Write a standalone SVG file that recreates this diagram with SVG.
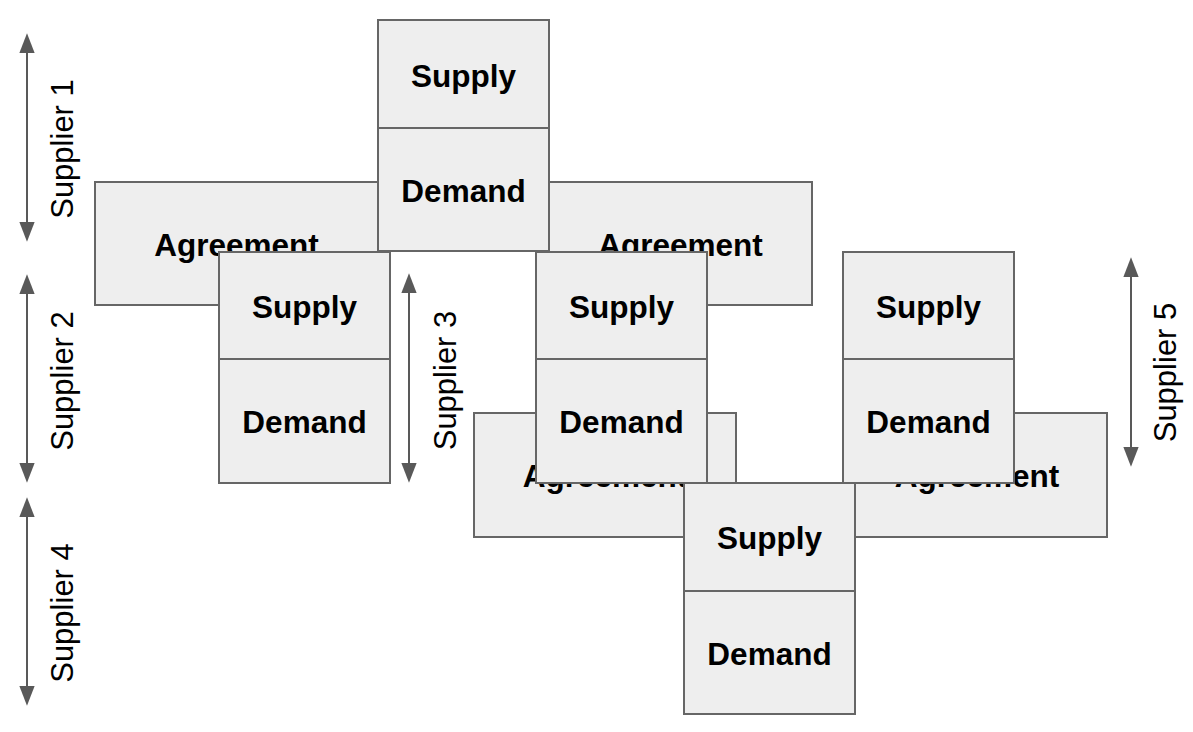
<svg xmlns="http://www.w3.org/2000/svg" width="1193" height="732" viewBox="0 0 1193 732">
<style>
.box{fill:#eeeeee;stroke:#666666;stroke-width:2}
.lbl{font-family:"Liberation Sans",Arial,sans-serif;font-weight:bold;font-size:31.5px;fill:#000;text-anchor:middle}
.sup{font-family:"Liberation Sans",Arial,sans-serif;font-size:31px;fill:#000;text-anchor:middle}
.arr{stroke:#595959;stroke-width:2;fill:none;marker-start:url(#ah);marker-end:url(#ah)}
</style>
<defs>
<marker id="ah" markerUnits="userSpaceOnUse" markerWidth="20" markerHeight="16" refX="12" refY="7" orient="auto-start-reverse" viewBox="0 0 18 14">
<path d="M0,0 L18,7 L0,14 z" fill="#595959"/>
</marker>
</defs>
<rect width="1193" height="732" fill="#ffffff"/>
<g id="agreement1"><rect class="box" x="95" y="182" width="283" height="123"/><text class="lbl" x="236.5" y="256">Agreement</text></g>
<g id="agreement2"><rect class="box" x="549" y="182" width="263" height="123"/><text class="lbl" x="680.5" y="256">Agreement</text></g>
<g id="supplier1"><rect class="box" x="378" y="20" width="171" height="108"/><text class="lbl" x="463.5" y="86.5">Supply</text><rect class="box" x="378" y="128" width="171" height="123"/><text class="lbl" x="463.5" y="201.5">Demand</text></g>
<g id="supplier2"><rect class="box" x="219" y="252" width="171" height="107"/><text class="lbl" x="304.5" y="317.5">Supply</text><rect class="box" x="219" y="359" width="171" height="124"/><text class="lbl" x="304.5" y="433">Demand</text></g>
<g id="agreement3"><rect class="box" x="474" y="413" width="262" height="124"/><text class="lbl" x="605" y="487">Agreement</text></g>
<g id="agreement4"><rect class="box" x="854" y="413" width="253" height="124"/><text class="lbl" x="977" y="487">Agreement</text></g>
<g id="supplier3"><rect class="box" x="536" y="252" width="171" height="107"/><text class="lbl" x="621.5" y="317.5">Supply</text><rect class="box" x="536" y="359" width="171" height="124"/><text class="lbl" x="621.5" y="433">Demand</text></g>
<g id="supplier5"><rect class="box" x="843" y="252" width="171" height="107"/><text class="lbl" x="928.5" y="317.5">Supply</text><rect class="box" x="843" y="359" width="171" height="124"/><text class="lbl" x="928.5" y="433">Demand</text></g>
<g id="supplier4"><rect class="box" x="684" y="483" width="171" height="108"/><text class="lbl" x="769.5" y="549">Supply</text><rect class="box" x="684" y="591" width="171" height="123"/><text class="lbl" x="769.5" y="664.5">Demand</text></g>
<g id="connectors">
<line class="arr" x1="27" y1="40" x2="27" y2="235"/>
<line class="arr" x1="27" y1="281" x2="27" y2="476"/>
<line class="arr" x1="27" y1="504" x2="27" y2="699"/>
<line class="arr" x1="409" y1="280" x2="409" y2="476"/>
<line class="arr" x1="1131" y1="264" x2="1131" y2="460"/>
</g>
<g id="labels">
<text class="sup" transform="translate(73,149) rotate(-90)">Supplier 1</text>
<text class="sup" transform="translate(73,381) rotate(-90)">Supplier 2</text>
<text class="sup" transform="translate(73,613) rotate(-90)">Supplier 4</text>
<text class="sup" transform="translate(456,380.5) rotate(-90)">Supplier 3</text>
<text class="sup" transform="translate(1176,372.5) rotate(-90)">Supplier 5</text>
</g>
</svg>
